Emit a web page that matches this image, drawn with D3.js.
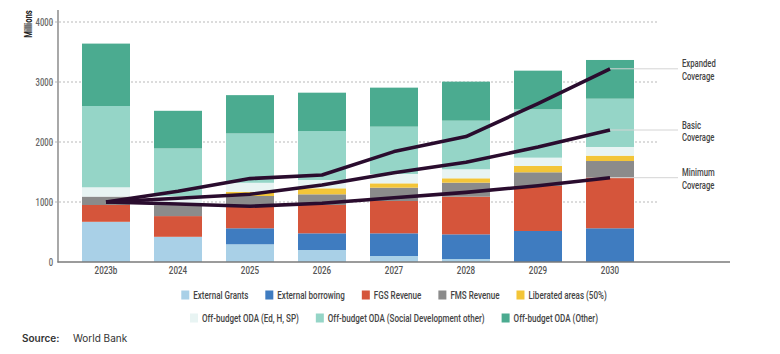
<!DOCTYPE html>
<html>
<head>
<meta charset="utf-8">
<script src="https://cdn.jsdelivr.net/npm/d3@7"></script>
<style>
  html, body { margin: 0; padding: 0; background: #fff; }
  svg { display: block; }
  .cond text, text.cond { font-family: Roboto, "Liberation Sans", sans-serif; font-weight: 500; }
</style>
</head>
<body>
<svg id="chart" width="780" height="354"></svg>
<script>
// ---- Data ----
const years = ["2023b", "2024", "2025", "2026", "2027", "2028", "2029", "2030"];
const seriesNames = [
  "External Grants", "External borrowing", "FGS Revenue", "FMS Revenue",
  "Liberated areas (50%)", "Off-budget ODA (Ed, H, SP)",
  "Off-budget ODA (Social Development other)", "Off-budget ODA (Other)"
];
const externalGrants    = [670, 420, 295, 200, 100, 50, 0, 0];
const externalBorrowing = [0, 0, 267, 278, 378, 411, 517, 562];
const fgsRevenue        = [280, 345, 360, 472, 539, 628, 750, 844];
const fmsRevenue        = [140, 183, 178, 178, 222, 233, 228, 277];
const liberatedAreas    = [0, 0, 70, 100, 72, 73, 105, 89];
const odaEdHSP          = [155, 150, 150, 139, 156, 150, 139, 145];
const odaSocialOther    = [1355, 795, 823, 816, 789, 811, 806, 805];
const odaOther          = [1040, 627, 638, 639, 650, 650, 644, 645];

const coverageNames = ["Expanded\nCoverage", "Basic\nCoverage", "Minimum\nCoverage"];
const expandedCoverage = [1000, 1180, 1390, 1450, 1840, 2090, 2640, 3220];
const basicCoverage    = [1000, 1062, 1128, 1283, 1489, 1661, 1915, 2200];
const minimumCoverage  = [1000, 967, 928, 978, 1072, 1161, 1272, 1405];

const yTicks = [0, 1000, 2000, 3000, 4000];
const colors = ["#a9d0e7", "#3f7cc0", "#d5553b", "#8b8b8b", "#f3c538", "#e8f4f3", "#95d5c7", "#4bab90"];

const SX = 0.7; // horizontal condensing of the label font

// ---- Build table ----
const seriesValues = [externalGrants, externalBorrowing, fgsRevenue, fmsRevenue,
  liberatedAreas, odaEdHSP, odaSocialOther, odaOther];
const table = years.map((yr, i) => {
  const row = { year: yr };
  seriesNames.forEach((s, j) => row[s] = seriesValues[j][i]);
  return row;
});
const stacked = d3.stack().keys(seriesNames)(table);

const svg = d3.select("#chart");
const x = d3.scaleBand().domain(years).range([58, 658]).paddingInner(1/3).paddingOuter(1/3);
const y = d3.scaleLinear().domain([0, 4000]).range([262, 22]);
const color = d3.scaleOrdinal().domain(seriesNames).range(colors);

// gridlines
svg.append("g").selectAll("line").data(yTicks.filter(d => d > 0)).join("line")
  .attr("x1", 51).attr("x2", 658)
  .attr("y1", d => y(d)).attr("y2", d => y(d))
  .attr("stroke", "#b9b9b9").attr("stroke-width", 1).attr("stroke-dasharray", "2,2");

// bars
svg.append("g").selectAll("g").data(stacked).join("g")
  .attr("fill", d => color(d.key))
  .selectAll("rect").data(d => d).join("rect")
  .attr("x", d => x(d.data.year))
  .attr("width", x.bandwidth())
  .attr("y", d => y(d[1]))
  .attr("height", d => y(d[0]) - y(d[1]));

// axes
const yAxis = svg.append("g").attr("class", "cond").attr("transform", "translate(53,0)")
  .call(d3.axisLeft(y).tickValues(yTicks).tickFormat(d3.format("d")).tickSize(0).tickPadding(0));
yAxis.select(".domain").remove();
yAxis.selectAll("text").attr("fill", "#666").style("font-size", "11px")
  .attr("transform", `scale(${SX},1)`);

svg.append("line").attr("x1", 58).attr("x2", 58).attr("y1", 10).attr("y2", 262.5)
  .attr("stroke", "#7a7a7a").attr("stroke-width", 1.3);
svg.append("line").attr("x1", 57.5).attr("x2", 730).attr("y1", 262).attr("y2", 262)
  .attr("stroke", "#7a7a7a").attr("stroke-width", 1.3);

const xAxis = svg.append("g").attr("class", "cond").attr("transform", "translate(0,262)")
  .call(d3.axisBottom(x).tickSize(0).tickPadding(4));
xAxis.select(".domain").remove();
xAxis.selectAll("text").attr("fill", "#555").style("font-size", "11.5px")
  .attr("transform", `scale(${SX},1)`);

// y label
svg.append("text").attr("class", "cond")
  .attr("transform", `translate(32,24) rotate(-90) scale(${SX},1)`)
  .attr("text-anchor", "middle")
  .attr("fill", "#222").style("font-size", "11px").style("font-weight", "bold")
  .text("Millions");

// coverage lines
const coverage = [expandedCoverage, basicCoverage, minimumCoverage];
const line = d3.line().x((d, i) => x(years[i]) + x.bandwidth() / 2).y(d => y(d));
const lastX = x(years[years.length - 1]) + x.bandwidth() / 2;

// leader lines
svg.append("g").selectAll("line").data(coverage).join("line")
  .attr("x1", lastX).attr("x2", 678)
  .attr("y1", d => y(d[d.length - 1])).attr("y2", d => y(d[d.length - 1]))
  .attr("stroke", "#d4d4d4").attr("stroke-width", 1);

svg.append("g").selectAll("path").data(coverage).join("path")
  .attr("d", line)
  .attr("fill", "none").attr("stroke", "#2a0c2e").attr("stroke-width", 3.6)
  .attr("stroke-linejoin", "round").attr("stroke-linecap", "butt");

// coverage labels (two text lines each)
const lbl = svg.append("g").attr("class", "cond");
coverage.forEach((c, i) => {
  const yy = y(c[c.length - 1]);
  coverageNames[i].split("\n").forEach((s, k) => {
    lbl.append("g").attr("transform", `translate(682,${yy - 1.5 + k * 12.5})`)
      .append("text").attr("transform", `scale(${SX},1)`)
      .attr("fill", "#444").style("font-size", "11px").text(s);
  });
});

// legend
const rows = [seriesNames.slice(0, 5), seriesNames.slice(5)];
const rowY = [295, 318];
rows.forEach((items, r) => {
  const g = svg.append("g").attr("class", "cond");
  let cx = 0;
  const placed = [];
  items.forEach(name => {
    const it = g.append("g");
    it.append("rect").attr("x", 0).attr("y", -4.5).attr("width", 8).attr("height", 9)
      .attr("fill", color(name));
    const t = it.append("g").attr("transform", `translate(12,0) scale(${SX},1)`)
      .append("text").attr("dy", "0.35em")
      .attr("fill", "#444").style("font-size", "11.5px").text(name);
    const w = 12 + t.node().getComputedTextLength() * SX;
    placed.push({ it, off: cx });
    cx += w + 17;
  });
  const total = cx - 17;
  const start = 394 - total / 2;
  placed.forEach(p => p.it.attr("transform", `translate(${start + p.off},${rowY[r]})`));
});

// source
svg.append("text").attr("x", 22).attr("y", 342)
  .attr("fill", "#333").style("font-family", "Inter, 'Liberation Sans', sans-serif")
  .style("font-size", "10px").style("font-weight", "600").text("Source:");
svg.append("text").attr("x", 73).attr("y", 342)
  .attr("fill", "#333").style("font-family", "Inter, 'Liberation Sans', sans-serif")
  .style("font-size", "10px").text("World Bank");
</script>
</body>
</html>
